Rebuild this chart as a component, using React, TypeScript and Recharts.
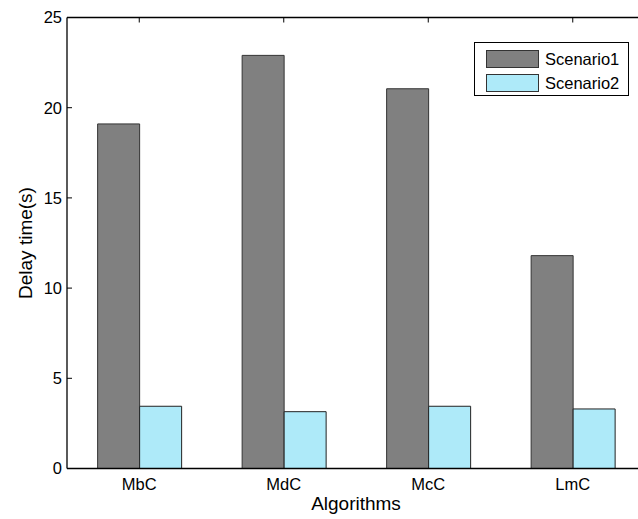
import React from 'react';
import { BarChart, Bar, XAxis, YAxis, Legend } from 'recharts';

const algorithms = ['MbC', 'MdC', 'McC', 'LmC'];
const scenario1 = [19.1, 22.9, 21.05, 11.8];
const scenario2 = [3.45, 3.15, 3.45, 3.3];
const yTicks = [0, 5, 10, 15, 20, 25];

const data = algorithms.map((name, i) => ({
  name,
  Scenario1: scenario1[i],
  Scenario2: scenario2[i],
}));

const FONT = '"Liberation Sans", Arial, Helvetica, sans-serif';
const TICK_LEN = 5;
const LABEL_GAP = 5;

// y tick: label on the left, short tick pointing into the plot (MATLAB style)
const YTick = (props: any) => {
  const { x, y, payload } = props;
  const axisX = x + LABEL_GAP;
  return (
    <g>
      <line x1={axisX} x2={axisX + TICK_LEN} y1={y} y2={y} stroke="#000" strokeWidth={1} />
      <text x={x} y={y} dy="0.36em" textAnchor="end" fontSize={16.5} fill="#000">
        {payload.value}
      </text>
    </g>
  );
};

// top box edge ticks, pointing down into the plot
const TopTick = (props: any) => {
  const { x, y } = props;
  return <line x1={x} x2={x} y1={y} y2={y + TICK_LEN} stroke="#000" strokeWidth={1} />;
};

// MATLAB style boxed legend
const BoxLegend = (props: any) => {
  const { payload } = props;
  if (!payload) return null;
  return (
    <div
      style={{
        width: 155,
        height: 54,
        boxSizing: 'border-box',
        border: '1px solid #000',
        background: '#fff',
        paddingTop: 4,
        paddingLeft: 11,
      }}
    >
      {payload.map((entry: any) => (
        <div key={entry.value} style={{ display: 'flex', alignItems: 'center', height: 24 }}>
          <div
            style={{
              width: 53,
              height: 18,
              boxSizing: 'border-box',
              background: entry.color,
              border: '1px solid #333',
            }}
          />
          <span style={{ marginLeft: 6, fontSize: 16.5, color: '#000', fontFamily: FONT }}>{entry.value}</span>
        </div>
      ))}
    </div>
  );
};

const App: React.FC = () => {
  return (
    <div
      style={{
        position: 'fixed',
        left: 0,
        top: 0,
        width: 638,
        height: 519,
        overflow: 'hidden',
        background: '#fff',
        fontFamily: FONT,
      }}
    >
      <BarChart
        width={660}
        height={519}
        data={data}
        margin={{ top: 16.5, right: 15, bottom: 0, left: 17 }}
        barCategoryGap="21.2%"
        barGap={0}
      >
        <XAxis
          dataKey="name"
          height={50.5}
          axisLine={{ stroke: '#000', strokeWidth: 1.3 }}
          tickLine={false}
          tickSize={5}
          tickMargin={4.5}
          tick={{ fontSize: 16.5, fill: '#000' }}
          label={{ value: 'Algorithms', position: 'insideBottom', offset: 9, fontSize: 19, fill: '#000' }}
        />
        <XAxis
          xAxisId="top"
          dataKey="name"
          orientation="top"
          height={1}
          interval={0}
          axisLine={{ stroke: '#000', strokeWidth: 1.3 }}
          tickLine={false}
          tickSize={0}
          tickMargin={0}
          tick={<TopTick />}
        />
        <YAxis
          width={50}
          domain={[0, 25]}
          ticks={yTicks}
          interval={0}
          axisLine={{ stroke: '#000', strokeWidth: 1.3 }}
          tickLine={false}
          tickSize={0}
          tickMargin={LABEL_GAP}
          tick={<YTick />}
          label={{
            value: 'Delay time(s)',
            angle: -90,
            position: 'insideLeft',
            offset: 8,
            fontSize: 19,
            fill: '#000',
            style: { textAnchor: 'middle' },
          }}
        />
        <Legend
          layout="vertical"
          align="center"
          verticalAlign="middle"
          content={<BoxLegend />}
          wrapperStyle={{ left: 474, top: 42, width: 155, height: 54 }}
        />
        <Bar dataKey="Scenario1" fill="#808080" stroke="#333" strokeWidth={1} isAnimationActive={false} />
        <Bar dataKey="Scenario2" fill="#aeeaf9" stroke="#222" strokeWidth={1} isAnimationActive={false} />
      </BarChart>
    </div>
  );
};

export default App;
